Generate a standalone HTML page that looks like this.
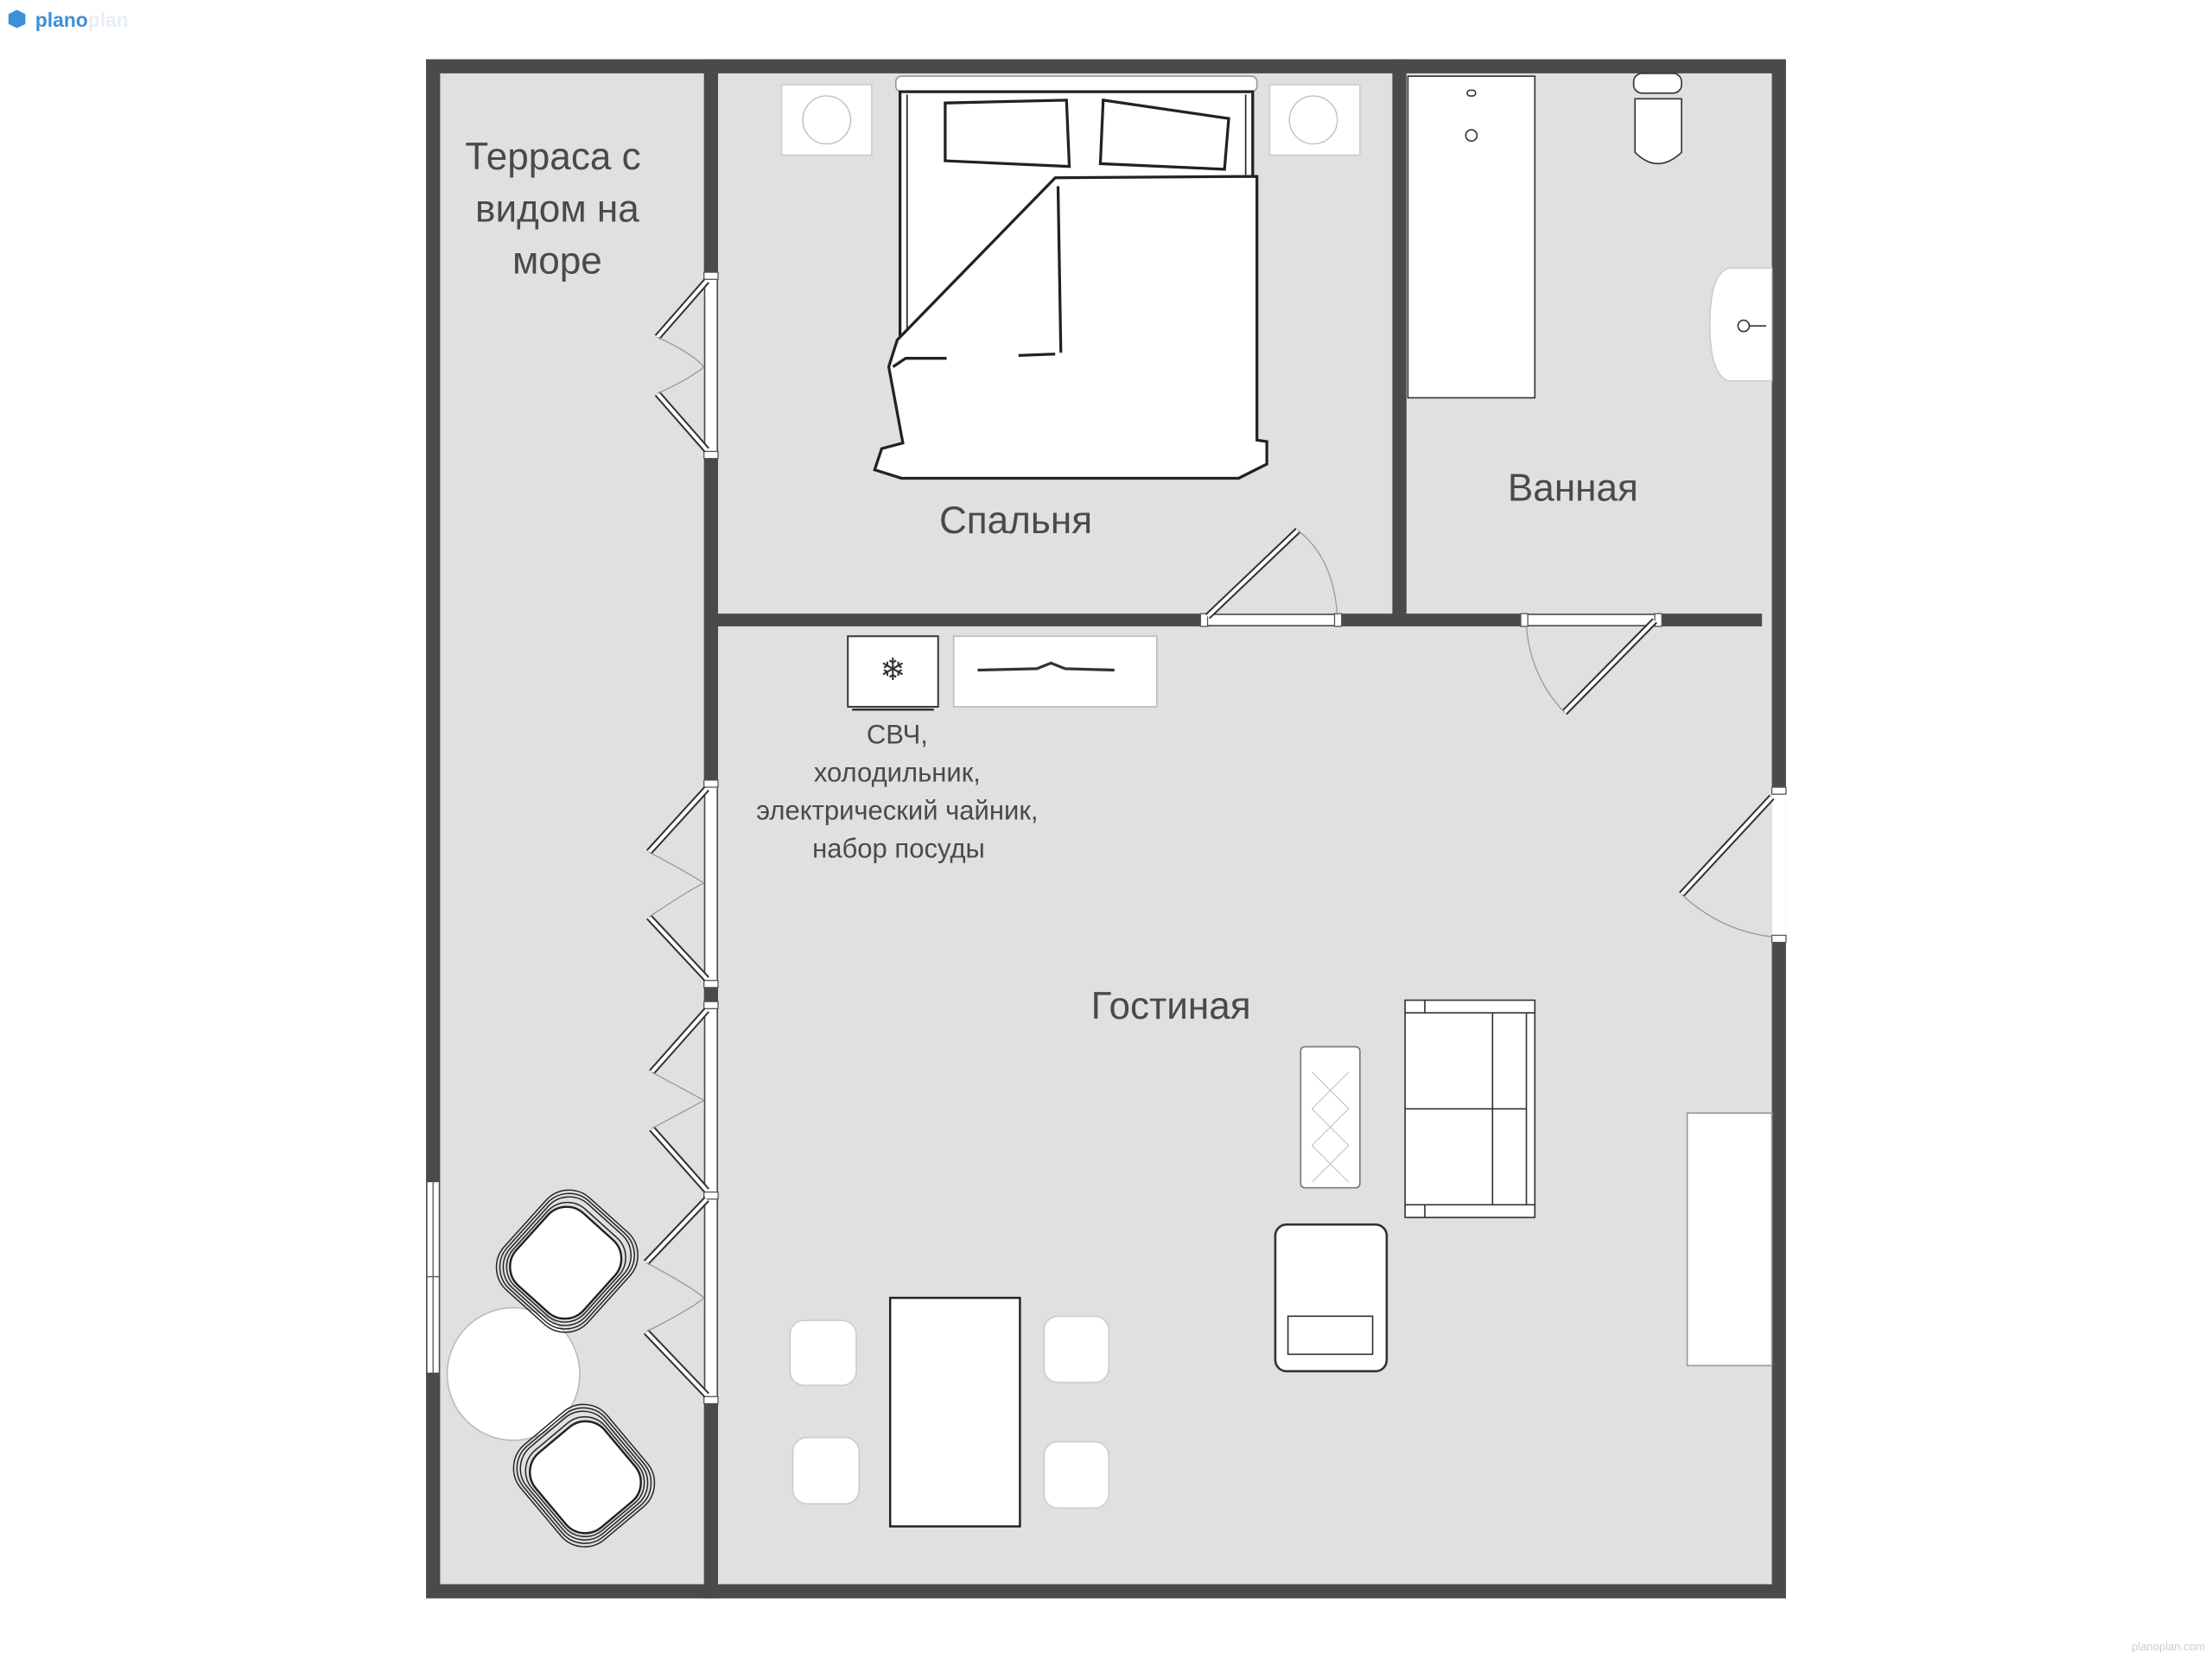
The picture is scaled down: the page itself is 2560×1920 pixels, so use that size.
<!DOCTYPE html>
<html><head><meta charset="utf-8"><style>
html,body{margin:0;padding:0;background:#fff;}
svg{display:block;}
text{font-family:"Liberation Sans","DejaVu Sans",sans-serif;fill:#4a4a4a;}
</style></head><body>
<svg width="2560" height="1920" viewBox="0 0 1568 1176" xmlns="http://www.w3.org/2000/svg">
<rect width="1568" height="1176" fill="#fff"/>
<rect x="302" y="42" width="964" height="1091" fill="#4a4a4a"/>
<rect x="312" y="52" width="944" height="1071" fill="#e0e0e0"/>
<rect x="499" y="42" width="10" height="1091" fill="#4a4a4a"/>
<rect x="987" y="42" width="10" height="397" fill="#4a4a4a"/>
<rect x="509" y="435" width="740" height="9" fill="#4a4a4a"/>
<g fill="#fff">
<rect x="500" y="198" width="8" height="122"/>
<rect x="500" y="558" width="8" height="137"/>
<rect x="500" y="715" width="8" height="130"/>
<rect x="500" y="849" width="8" height="141"/>
<rect x="856" y="436" width="92" height="7"/>
<rect x="1083" y="436" width="92" height="7"/>
<rect x="1256" y="562" width="10" height="102"/>
<rect x="303" y="838" width="8" height="135"/>
</g>
<g fill="#fff" stroke="#555" stroke-width="0.8">
<rect x="499" y="193" width="10" height="5"/><rect x="499" y="320" width="10" height="5"/>
<rect x="499" y="553" width="10" height="5"/><rect x="499" y="695" width="10" height="5"/>
<rect x="499" y="710" width="10" height="5"/><rect x="499" y="845" width="10" height="5"/>
<rect x="499" y="990" width="10" height="5"/>
<rect x="851" y="435" width="5" height="9"/><rect x="946" y="435" width="5" height="9"/>
<rect x="1078" y="435" width="5" height="9"/><rect x="1173" y="435" width="5" height="9"/>
<rect x="1256" y="558" width="10" height="5"/><rect x="1256" y="663" width="10" height="5"/>
<line x1="307" y1="838" x2="307" y2="973"/><line x1="302" y1="905" x2="312" y2="905"/>
</g>
<g stroke="#333" stroke-width="5">
<line x1="501" y1="199" x2="466" y2="239"/><line x1="501" y1="319" x2="466" y2="279"/>
<line x1="501" y1="559" x2="460" y2="604"/><line x1="501" y1="694" x2="460" y2="650"/>
<line x1="501" y1="716" x2="462" y2="760"/><line x1="501" y1="844" x2="462" y2="800"/>
<line x1="501" y1="850" x2="458" y2="895"/><line x1="501" y1="989" x2="458" y2="944"/>
<line x1="856" y1="437" x2="920" y2="376"/>
<line x1="1173" y1="440" x2="1109" y2="505"/>
<line x1="1256" y1="565" x2="1192" y2="634"/>
</g>
<g stroke="#fff" stroke-width="2.5">
<line x1="501" y1="199" x2="466" y2="239"/><line x1="501" y1="319" x2="466" y2="279"/>
<line x1="501" y1="559" x2="460" y2="604"/><line x1="501" y1="694" x2="460" y2="650"/>
<line x1="501" y1="716" x2="462" y2="760"/><line x1="501" y1="844" x2="462" y2="800"/>
<line x1="501" y1="850" x2="458" y2="895"/><line x1="501" y1="989" x2="458" y2="944"/>
<line x1="856" y1="437" x2="920" y2="376"/>
<line x1="1173" y1="440" x2="1109" y2="505"/>
<line x1="1256" y1="565" x2="1192" y2="634"/>
</g>
<g fill="none" stroke="#999" stroke-width="0.8">
<path d="M466 239 Q490 250 499 260"/><path d="M466 279 Q490 268 499 260"/>
<path d="M460 604 Q490 620 499 626"/><path d="M460 650 Q490 630 499 626"/>
<path d="M462 760 Q490 775 499 780"/><path d="M462 800 Q490 785 499 780"/>
<path d="M458 895 Q490 912 499 920"/><path d="M458 944 Q490 928 499 920"/>
<path d="M920 376 Q945 395 948 436"/>
<path d="M1109 505 Q1085 480 1082 444"/>
<path d="M1192 634 Q1220 660 1256 664"/>
</g>
<!-- bedroom -->
<g fill="#fff" stroke="#222">
<rect x="554" y="60" width="64" height="50" stroke="#ccc"/>
<rect x="900" y="60" width="64" height="50" stroke="#ccc"/>
<circle cx="586" cy="85" r="17" fill="none" stroke="#bbb" stroke-width="0.8"/>
<circle cx="931" cy="85" r="17" fill="none" stroke="#bbb" stroke-width="0.8"/>
<rect x="635" y="54" width="256" height="11" rx="4" stroke="#999" stroke-width="1"/>
<rect x="638" y="65" width="250" height="175" stroke-width="2"/>
<line x1="643" y1="67" x2="643" y2="236" stroke-width="1"/>
<line x1="883" y1="67" x2="883" y2="124" stroke-width="1"/>
<path d="M670 73 L756 71 L758 118 L670 114 Z" stroke-width="2"/>
<path d="M782 71 L871 84 L868 120 L780 116 Z" stroke-width="2"/>
<path d="M748 126 L891 125 L891 312 L898 313 L898 329 L878 339 L639 339 L620 333 L625 318 L640 314 L630 260 L636 241 Z" stroke-width="2"/>
<path d="M750 132 L752 250 M633 260 L642 254 L671 254 M722 252 L748 251" fill="none" stroke-width="2"/>
</g>
<!-- bathroom -->
<g fill="#fff" stroke="#333" stroke-width="1">
<rect x="998" y="54" width="90" height="228"/>
<rect x="1040" y="64" width="6" height="4" rx="2"/>
<circle cx="1043" cy="96" r="4"/>
<rect x="1158" y="52" width="34" height="14" rx="6"/>
<path d="M1159 70 L1192 70 L1192 108 Q1175 124 1159 108 Z"/>
<path d="M1256 190 L1225 190 Q1212 195 1212 230 Q1212 265 1225 270 L1256 270 Z" stroke="#ccc"/>
<circle cx="1236" cy="231" r="4" fill="none"/><line x1="1240" y1="231" x2="1252" y2="231"/>
</g>
<!-- kitchen -->
<g fill="#fff" stroke="#333">
<rect x="601" y="451" width="64" height="50" stroke-width="1.2"/>
<line x1="604" y1="503" x2="662" y2="503" stroke-width="1.5"/>
<rect x="676" y="451" width="144" height="50" stroke="#bbb"/>
<path d="M693 475 L735 474 L745 470 L755 474 L790 475" fill="none" stroke-width="2"/>
</g>
<text x="633" y="482" font-size="22" text-anchor="middle" style="fill:#333">❄</text>
<!-- living -->
<g fill="#fff" stroke="#333" stroke-width="1">
<rect x="922" y="742" width="42" height="100" rx="3" stroke="#777"/>
<rect x="996" y="709" width="92" height="154"/>
<line x1="996" y1="718" x2="1088" y2="718"/><line x1="996" y1="854" x2="1088" y2="854"/>
<line x1="1010" y1="709" x2="1010" y2="718"/><line x1="1010" y1="854" x2="1010" y2="863"/>
<line x1="996" y1="786" x2="1082" y2="786"/>
<line x1="1058" y1="718" x2="1058" y2="854"/><line x1="1082" y1="718" x2="1082" y2="854"/>
<rect x="904" y="868" width="79" height="104" rx="8" stroke-width="1.6"/>
<rect x="913" y="933" width="60" height="27"/>
<rect x="1196" y="789" width="60" height="179" stroke="#999"/>
<rect x="631" y="920" width="92" height="162" stroke="#222" stroke-width="1.5"/>
<rect x="560" y="936" width="47" height="46" rx="10" stroke="#ccc"/>
<rect x="740" y="933" width="46" height="47" rx="10" stroke="#ccc"/>
<rect x="562" y="1019" width="47" height="47" rx="10" stroke="#ccc"/>
<rect x="740" y="1022" width="46" height="47" rx="10" stroke="#ccc"/>
</g>
<g fill="none" stroke="#bbb" stroke-width="0.6">
<path d="M930 760 L956 786 L930 812 L956 838 M956 760 L930 786 L956 812 L930 838"/>
</g>
<!-- terrace -->
<circle cx="364" cy="974" r="47" fill="#fff" stroke="#bbb"/>
<g fill="none" stroke="#222" stroke-width="0.9" transform="rotate(42 402 894)">
<rect x="362" y="850" width="80" height="88" rx="22"/>
<rect x="364" y="852" width="76" height="84" rx="21"/>
<rect x="366" y="854" width="72" height="80" rx="20"/>
<rect x="368" y="858" width="68" height="74" rx="19"/>
<rect x="370" y="861" width="64" height="69" rx="18" fill="#fff" stroke-width="1.5"/>
</g>
<g fill="none" stroke="#222" stroke-width="0.9" transform="rotate(-40 414 1046)">
<rect x="374" y="1002" width="80" height="88" rx="22"/>
<rect x="376" y="1004" width="76" height="84" rx="21"/>
<rect x="378" y="1006" width="72" height="80" rx="20"/>
<rect x="380" y="1010" width="68" height="74" rx="19"/>
<rect x="382" y="1013" width="64" height="69" rx="18" fill="#fff" stroke-width="1.5"/>
</g>
<g font-size="27" text-anchor="middle">
<text x="392" y="120">Терраса с</text>
<text x="395" y="157">видом на</text>
<text x="395" y="194">море</text>
<text x="720" y="378">Спальня</text>
<text x="1115" y="355">Ванная</text>
<text x="830" y="722">Гостиная</text>
</g>
<g font-size="19" text-anchor="middle">
<text x="636" y="527">СВЧ,</text>
<text x="636" y="554">холодильник,</text>
<text x="636" y="581">электрический чайник,</text>
<text x="637" y="608">набор посуды</text>
</g>
<path d="M6 10 L12 7 L18 10 L18 17 L12 20 L6 17 Z" fill="#3d8fd8"/>
<text x="25" y="19" font-size="14" font-weight="bold" style="fill:#3d8fd8">plano<tspan style="fill:#e8eef4">plan</tspan></text>
<text x="1563" y="1170" font-size="8" text-anchor="end" style="fill:#ccc">planoplan.com</text>
</svg>
</body></html>
